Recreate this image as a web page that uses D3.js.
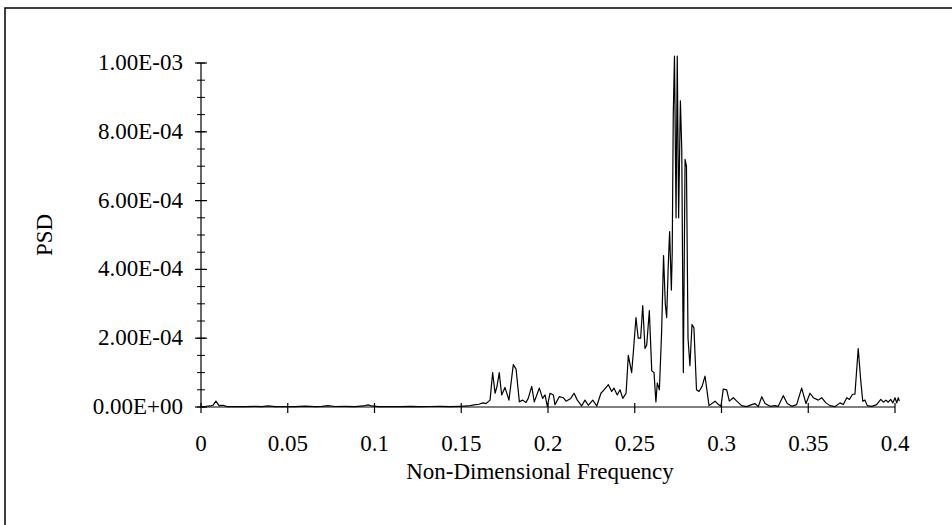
<!DOCTYPE html>
<html>
<head>
<meta charset="utf-8">
<script src="https://cdn.jsdelivr.net/npm/d3@7"></script>
<style>
  body { margin: 0; background: #fff; }
  svg { display: block; }
  .lbl { font-family: "Liberation Serif", "Times New Roman", serif; font-size: 23px; fill: #000; }
</style>
</head>
<body>
<div id="chart"></div>
<script>
// frecuencia adimensional
var freq = [0, 0.0023, 0.0052, 0.0069, 0.0086, 0.0104, 0.0127, 0.0150, 0.0196, 0.0254,
  0.0311, 0.0352, 0.0386, 0.0427, 0.0484, 0.0542, 0.0599, 0.0657, 0.0697, 0.0732,
  0.0772, 0.0830, 0.0888, 0.0934, 0.0963, 0.0986, 0.1020, 0.1089, 0.1147, 0.1205,
  0.1262, 0.1320, 0.1378, 0.1435, 0.1493, 0.1539, 0.1573, 0.1602, 0.1625, 0.1643,
  0.1654, 0.1666, 0.1681, 0.1695, 0.1706, 0.1719, 0.1733, 0.1752, 0.1775, 0.1800,
  0.1816, 0.1835, 0.1854, 0.1873, 0.1886, 0.1906, 0.1921, 0.1950, 0.1969, 0.1983,
  0.1996, 0.2012, 0.2031, 0.2040, 0.2065, 0.2088, 0.2104, 0.2131, 0.2150, 0.2169,
  0.2194, 0.2213, 0.2232, 0.2258, 0.2281, 0.2305, 0.2323, 0.2348, 0.2367, 0.2380,
  0.2399, 0.2415, 0.2431, 0.2450, 0.2463, 0.2482, 0.2492, 0.2507, 0.2520, 0.2534,
  0.2546, 0.2559, 0.2569, 0.2584, 0.2598, 0.2611, 0.2622, 0.2630, 0.2642, 0.2655,
  0.2666, 0.2676, 0.2684, 0.2693, 0.2701, 0.2711, 0.2716, 0.2722, 0.2729, 0.2738,
  0.2745, 0.2753, 0.2763, 0.2771, 0.2780, 0.2790, 0.2798, 0.2807, 0.2818, 0.2830,
  0.2841, 0.2856, 0.2870, 0.2888, 0.2905, 0.2928, 0.2963, 0.2982, 0.2997, 0.3010,
  0.3030, 0.3045, 0.3068, 0.3088, 0.3116, 0.3145, 0.3174, 0.3193, 0.3212, 0.3232,
  0.3251, 0.3280, 0.3308, 0.3327, 0.3356, 0.3379, 0.3405, 0.3433, 0.3462, 0.3487,
  0.3510, 0.3529, 0.3558, 0.3577, 0.3602, 0.3625, 0.3654, 0.3683, 0.3702, 0.3722,
  0.3737, 0.3756, 0.3769, 0.3788, 0.3802, 0.3814, 0.3827, 0.3840, 0.3866, 0.3894,
  0.3918, 0.3933, 0.3948, 0.3961, 0.3975, 0.3988, 0.4000, 0.4010, 0.4019, 0.4025];

// PSD para cada frecuencia
var psd = [1e-6, 1.5e-6, 3e-6, 5e-6, 1.7e-5, 4e-6, 5e-6, 1e-6, 1.5e-6, 1e-6,
  2e-6, 1e-6, 3e-6, 1e-6, 1.5e-6, 1e-6, 2.5e-6, 1e-6, 2e-6, 4e-6,
  1.5e-6, 2e-6, 1e-6, 3e-6, 6e-6, 3e-6, 1e-6, 1.5e-6, 1e-6, 2e-6,
  1e-6, 1.5e-6, 2e-6, 1e-6, 2e-6, 3e-6, 6e-6, 8e-6, 1.2e-5, 1.0e-5,
  1.5e-5, 2e-5, 1.0e-4, 4e-5, 6e-5, 1.0e-4, 3.5e-5, 5.7e-5, 2e-5, 1.23e-4,
  1.1e-4, 1.5e-5, 2e-5, 1.3e-5, 2.5e-5, 6e-5, 1.5e-5, 5.5e-5, 2.5e-5, 3.5e-5,
  2e-6, 4e-5, 3.5e-5, 7e-6, 3e-5, 2.7e-5, 1.7e-5, 2.5e-5, 4e-5, 2e-5,
  3e-6, 2e-5, 5e-6, 2e-5, 3e-6, 4e-5, 5e-5, 6.5e-5, 4.5e-5, 5.5e-5,
  3.5e-5, 5e-5, 2.5e-5, 4e-5, 1.5e-4, 1.0e-4, 1.6e-4, 2.6e-4, 2.0e-4, 2.0e-4,
  2.95e-4, 1.7e-4, 1.8e-4, 2.8e-4, 1.05e-4, 1.0e-4, 1.5e-5, 7e-5, 5e-5, 2.2e-4,
  4.4e-4, 3.0e-4, 2.6e-4, 4.1e-4, 5.1e-4, 3.4e-4, 4.5e-4, 8.5e-4, 1.02e-3, 5.5e-4,
  1.02e-3, 5.5e-4, 8.9e-4, 7.5e-4, 1.0e-4, 7.2e-4, 7.0e-4, 2.0e-4, 1.2e-4, 2.4e-4,
  2.3e-4, 5e-5, 4.5e-5, 6e-5, 9e-5, 4e-6, 1.7e-5, 7e-6, 2e-6, 5.2e-5,
  5e-5, 1.7e-5, 2.7e-5, 1.7e-5, 4e-6, 1e-6, 7e-6, 1e-5, 1e-6, 3e-5,
  1e-5, 2e-6, 4e-6, 2e-6, 3.3e-5, 1e-5, 2e-6, 7e-6, 5.5e-5, 1e-5,
  4e-5, 2.7e-5, 2e-5, 2.7e-5, 1.2e-5, 4e-6, 1e-6, 1.2e-5, 7e-6, 2.7e-5,
  2.2e-5, 3.7e-5, 3.7e-5, 1.7e-4, 8e-5, 1.7e-5, 2e-5, 4e-6, 2e-6, 7e-6,
  2.2e-5, 1.4e-5, 2e-5, 1.4e-5, 2.2e-5, 1.2e-5, 2.7e-5, 1.2e-5, 2.7e-5, 1.7e-5];

// marcas de los ejes
var xTicks = [0, 0.05, 0.1, 0.15, 0.2, 0.25, 0.3, 0.35, 0.4];
var xTickLabels = ["0", "0.05", "0.1", "0.15", "0.2", "0.25", "0.3", "0.35", "0.4"];
var yTicks = [0, 2e-4, 4e-4, 6e-4, 8e-4, 1e-3];
var yTickLabels = ["0.00E+00", "2.00E-04", "4.00E-04", "6.00E-04", "8.00E-04", "1.00E-03"];
var yMinorTicks = d3.range(0, 21).map(function(i) { return i * 5e-5; });

var W = 952, H = 525;
var x0 = 201, x1 = 895, yBottom = 407, yTop = 63;

var svg = d3.select("#chart").append("svg")
  .attr("width", W)
  .attr("height", H);

// marco exterior
svg.append("rect")
  .attr("x", 5).attr("y", 8)
  .attr("width", 1000).attr("height", 600)
  .attr("fill", "none")
  .attr("stroke", "#000")
  .attr("stroke-width", 1.5);

var x = d3.scaleLinear().domain([0, 0.4]).range([x0, x1]);
var y = d3.scaleLinear().domain([0, 1e-3]).range([yBottom, yTop]);

// eje x
svg.append("line")
  .attr("x1", x(0)).attr("x2", x(0.4))
  .attr("y1", y(0)).attr("y2", y(0))
  .attr("stroke", "#000").attr("stroke-width", 1.2);

svg.append("g").selectAll("line")
  .data(xTicks)
  .join("line")
  .attr("x1", function(d) { return x(d); })
  .attr("x2", function(d) { return x(d); })
  .attr("y1", y(0) - 4)
  .attr("y2", y(0) + 6)
  .attr("stroke", "#000").attr("stroke-width", 1.2);

svg.append("g").selectAll("text")
  .data(xTicks)
  .join("text")
  .attr("class", "lbl")
  .attr("x", function(d) { return x(d); })
  .attr("y", y(0) + 44)
  .attr("text-anchor", "middle")
  .text(function(d, i) { return xTickLabels[i]; });

// eje y
svg.append("line")
  .attr("x1", x(0)).attr("x2", x(0))
  .attr("y1", y(0)).attr("y2", y(1e-3))
  .attr("stroke", "#000").attr("stroke-width", 1.2);

svg.append("g").selectAll("line")
  .data(yMinorTicks)
  .join("line")
  .attr("x1", x(0) - 4)
  .attr("x2", x(0) + 4)
  .attr("y1", function(d) { return y(d); })
  .attr("y2", function(d) { return y(d); })
  .attr("stroke", "#000").attr("stroke-width", 1);

svg.append("g").selectAll("line")
  .data(yTicks)
  .join("line")
  .attr("x1", x(0) - 6)
  .attr("x2", x(0) + 6)
  .attr("y1", function(d) { return y(d); })
  .attr("y2", function(d) { return y(d); })
  .attr("stroke", "#000").attr("stroke-width", 1.2);

svg.append("g").selectAll("text")
  .data(yTicks)
  .join("text")
  .attr("class", "lbl")
  .attr("x", x(0) - 18)
  .attr("y", function(d) { return y(d) + 7; })
  .attr("text-anchor", "end")
  .text(function(d, i) { return yTickLabels[i]; });

// titulos
svg.append("text")
  .attr("class", "lbl")
  .attr("transform", "translate(52," + ((yTop + yBottom) / 2) + ") rotate(-90)")
  .attr("text-anchor", "middle")
  .text("PSD");

svg.append("text")
  .attr("class", "lbl")
  .attr("x", 540)
  .attr("y", y(0) + 72)
  .attr("text-anchor", "middle")
  .text("Non-Dimensional Frequency");

// serie
var serie = freq.map(function(f, i) { return { f: f, v: psd[i] }; });

svg.append("path")
  .datum(serie)
  .attr("fill", "none")
  .attr("stroke", "#000")
  .attr("stroke-width", 1.2)
  .attr("stroke-linejoin", "round")
  .attr("d", d3.line()
    .x(function(d) { return x(d.f); })
    .y(function(d) { return y(d.v); }));
</script>
</body>
</html>
